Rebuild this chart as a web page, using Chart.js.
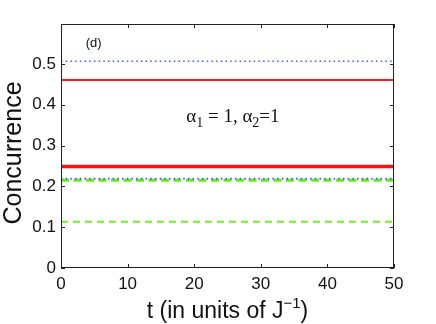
<!DOCTYPE html>
<html>
<head>
<meta charset="utf-8">
<script src="https://cdn.jsdelivr.net/npm/chart.js@4.4.0/dist/chart.umd.min.js"></script>
<style>
  html, body { margin: 0; padding: 0; background: #fff; }
  #wrap { width: 436px; height: 324px; }
</style>
</head>
<body>
<div id="wrap"><canvas id="concChart" width="436" height="324"></canvas></div>
<script>
// time axis (constant lines, just the two ends)
const tValues = [0, 50];
const xTicks = [0, 10, 20, 30, 40, 50];
const yTicks = [0, 0.1, 0.2, 0.3, 0.4, 0.5];

const blueTop = [0.507, 0.507];
const redTop = [0.461, 0.461];
const redThick = [0.249, 0.249];
const blueLow = [0.219, 0.219];
const greenThick = [0.215, 0.215];
const greenThin = [0.1135, 0.1135];

const panelLabel = '(d)';
const xTitle = 't (in units of J';
const xTitleSup = '\u22121';
const yTitle = 'Concurrence';

function pts(arr) {
    return tValues.map((t, i) => ({ x: t, y: arr[i] }));
}

function line(data, color, width, dash) {
    return {
        data: pts(data),
        borderColor: color,
        borderWidth: width,
        borderDash: dash || [],
        pointRadius: 0,
        fill: false,
        tension: 0
    };
}

const SANS = '"Liberation Sans", Arial, sans-serif';
const SERIF = '"Liberation Serif", "Times New Roman", serif';

// box, inward ticks, titles and the text annotations
const matlabAxes = {
    id: 'matlabAxes',
    afterDraw(chart) {
        const ctx = chart.ctx;
        const a = chart.chartArea;
        const xs = chart.scales.x, ys = chart.scales.y;
        ctx.save();
        ctx.strokeStyle = '#222';
        ctx.lineWidth = 1;
        ctx.strokeRect(a.left + 0.5, a.top + 0.5, a.right - a.left - 1, a.bottom - a.top - 1);
        ctx.beginPath();
        xTicks.forEach(v => {
            const px = Math.round(xs.getPixelForValue(v)) + 0.5;
            ctx.moveTo(px, a.bottom); ctx.lineTo(px, a.bottom - 4);
            ctx.moveTo(px, a.top); ctx.lineTo(px, a.top + 4);
        });
        yTicks.forEach(v => {
            const py = Math.round(ys.getPixelForValue(v)) + 0.5;
            ctx.moveTo(a.left, py); ctx.lineTo(a.left + 4, py);
            ctx.moveTo(a.right, py); ctx.lineTo(a.right - 4, py);
        });
        ctx.stroke();

        ctx.fillStyle = '#111';
        // panel label
        ctx.font = '13px ' + SANS;
        ctx.textAlign = 'left';
        ctx.textBaseline = 'middle';
        ctx.fillText(panelLabel, xs.getPixelForValue(3.7), ys.getPixelForValue(0.55));

        // alpha annotation
        const bx = xs.getPixelForValue(18.8);
        const by = ys.getPixelForValue(0.358);
        ctx.textBaseline = 'alphabetic';
        const big = '19px ' + SERIF;
        const small = '14px ' + SERIF;
        let x = bx;
        const parts = [
            ['\u03b1', big, 0], ['1', small, 5], [' = 1, ', big, 0],
            ['\u03b1', big, 0], ['2', small, 5], ['=1', big, 0]
        ];
        parts.forEach(p => {
            ctx.font = p[1];
            ctx.fillText(p[0], x, by + p[2]);
            x += ctx.measureText(p[0]).width;
        });

        // x title with superscript
        const tf = '23px ' + SANS, sf = '15px ' + SANS;
        ctx.font = tf;
        const w1 = ctx.measureText(xTitle).width;
        const w3 = ctx.measureText(')').width;
        ctx.font = sf;
        const w2 = ctx.measureText(xTitleSup).width;
        let tx = (a.left + a.right) / 2 - (w1 + w2 + w3) / 2;
        const ty = 318;
        ctx.font = tf;
        ctx.fillText(xTitle, tx, ty);
        tx += w1;
        ctx.font = sf;
        ctx.fillText(xTitleSup, tx, ty - 10);
        tx += w2;
        ctx.font = tf;
        ctx.fillText(')', tx, ty);

        // y title
        ctx.save();
        ctx.translate(14, 153);
        ctx.rotate(-Math.PI / 2);
        ctx.textAlign = 'center';
        ctx.textBaseline = 'middle';
        ctx.font = '25px ' + SANS;
        ctx.fillText(yTitle, 0, 0);
        ctx.restore();
        ctx.restore();
    }
};

new Chart(document.getElementById('concChart'), {
    type: 'line',
    data: {
        datasets: [
            line(blueTop, '#3d5cff', 1.5, [1.5, 3.2]),
            line(redTop, '#ff1a1a', 2),
            line(redThick, '#ff1010', 3.5),
            line(blueLow, '#3d5cff', 2, [1.5, 3.2]),
            line(greenThick, '#66ee11', 3, [8, 4.5]),
            line(greenThin, '#77ee22', 2, [7, 5])
        ]
    },
    options: {
        responsive: false,
        animation: false,
        layout: { padding: { top: 24, right: 42, left: 0, bottom: 0 } },
        plugins: { legend: { display: false }, tooltip: { enabled: false } },
        scales: {
            x: {
                type: 'linear',
                min: 0,
                max: 50,
                grid: { display: false, drawTicks: false },
                border: { display: false },
                afterBuildTicks: s => { s.ticks = xTicks.map(v => ({ value: v })); },
                afterFit: s => { s.height = 56; },
                ticks: {
                    color: '#111',
                    padding: 6,
                    maxRotation: 0,
                    font: { family: SANS, size: 17 }
                }
            },
            y: {
                min: 0,
                max: 0.598,
                grid: { display: false, drawTicks: false },
                border: { display: false },
                afterBuildTicks: s => { s.ticks = yTicks.map(v => ({ value: v })); },
                afterFit: s => { s.width = 61; },
                ticks: {
                    color: '#111',
                    padding: 5,
                    font: { family: SANS, size: 17 },
                    callback: v => v === 0 ? '0' : v.toFixed(1)
                }
            }
        }
    },
    plugins: [matlabAxes]
});
</script>
</body>
</html>
